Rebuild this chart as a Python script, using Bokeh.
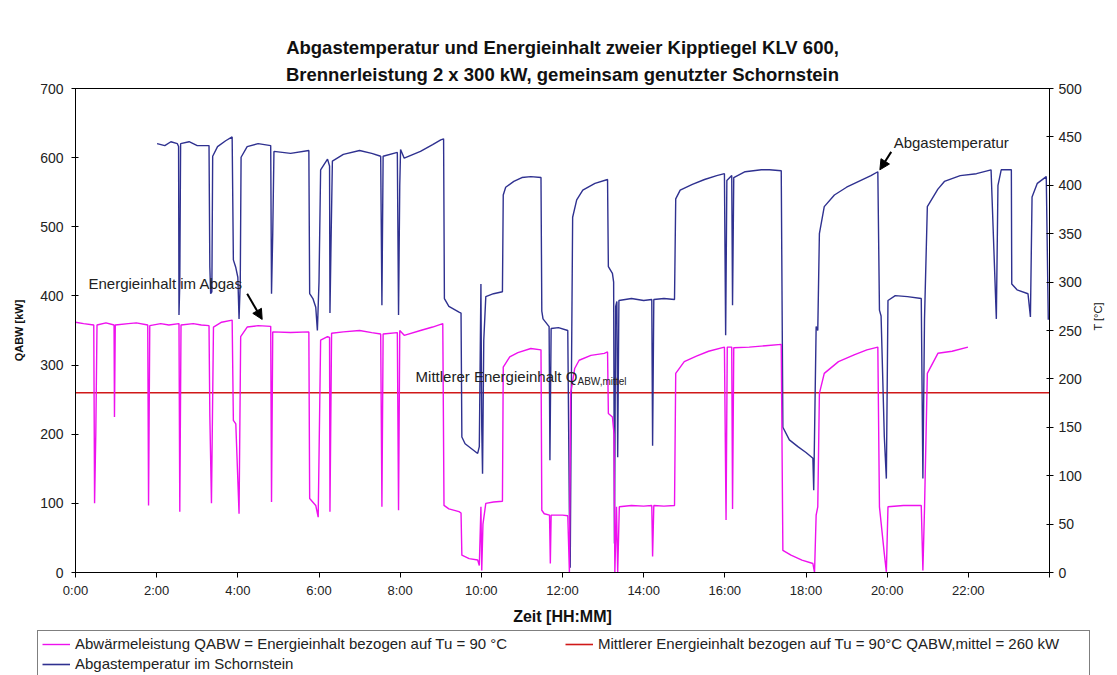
import math
from bokeh.plotting import figure
from bokeh.layouts import column
from bokeh.models import (Range1d, LinearAxis, FixedTicker, Label, Arrow, NormalHead,
                          Legend, LegendItem, Title)
from bokeh.embed import file_html
from bokeh.resources import INLINE

FONT = "Liberation Sans"

title_line1 = "Abgastemperatur und Energieinhalt zweier Kipptiegel KLV 600,"
title_line2 = "Brennerleistung 2 x 300 kW, gemeinsam genutzter Schornstein"

x_start_hour = 0
x_end_hour = 24
x_ticks = [0, 2, 4, 6, 8, 10, 12, 14, 16, 18, 20, 22]
x_tick_labels = ["0:00", "2:00", "4:00", "6:00", "8:00", "10:00", "12:00",
                 "14:00", "16:00", "18:00", "20:00", "22:00"]
q_ticks = [0, 100, 200, 300, 400, 500, 600, 700]
t_ticks = [0, 50, 100, 150, 200, 250, 300, 350, 400, 450, 500]

# Abgastemperatur im Schornstein [°C]
temp_hours = [2.01, 2.2, 2.35, 2.51, 2.54, 2.55, 2.57, 2.59, 2.8, 3.0, 3.29, 3.31, 3.33, 3.36,
              3.38, 3.5, 3.7, 3.86, 3.89, 3.95, 4.0, 4.03, 4.06, 4.08, 4.23, 4.5, 4.81, 4.83,
              4.86, 4.89, 5.3, 5.75, 5.77, 5.85, 5.92, 5.96, 6.0, 6.04, 6.21, 6.26, 6.27, 6.30,
              6.33, 6.6, 7.0, 7.3, 7.52, 7.55, 7.58, 7.93, 7.96, 7.99, 8.01, 8.10, 8.5, 8.8,
              9.0, 9.07, 9.09, 9.2, 9.45, 9.50, 9.52, 9.6, 9.91, 9.95, 9.99, 10.01, 10.03,
              10.06, 10.11, 10.3, 10.52, 10.54, 10.6, 10.8, 11.0, 11.22, 11.47, 11.49, 11.52,
              11.67, 11.69, 11.72, 11.9, 12.13, 12.17, 12.19, 12.22, 12.25, 12.35, 12.5, 12.8,
              13.11, 13.13, 13.23, 13.26, 13.28, 13.31, 13.34, 13.36, 13.39, 13.7, 14.0, 14.2,
              14.22, 14.25, 14.5, 14.76, 14.79, 14.9, 15.2, 15.5, 15.8, 15.99, 16.02, 16.05,
              16.17, 16.19, 16.22, 16.5, 16.9, 17.1, 17.39, 17.43, 17.59, 17.8, 18.0, 18.17,
              18.19, 18.25, 18.29, 18.33, 18.45, 18.7, 19.0, 19.3, 19.6, 19.77, 19.81, 19.85,
              19.93, 19.98, 20.02, 20.2, 20.5, 20.84, 20.88, 20.92, 20.99, 21.25, 21.41, 21.8,
              22.2, 22.56, 22.69, 22.73, 22.81, 23.06, 23.07, 23.2, 23.47, 23.53, 23.57, 23.7,
              23.92, 23.97]
temp_values = [443, 441, 445, 443, 440, 266, 300, 443, 445, 441, 441, 316, 288, 290,
               430, 440, 446, 450, 323, 315, 305, 262, 300, 429, 440, 443, 441, 288,
               350, 435, 433, 436, 288, 283, 274, 250, 300, 416, 427, 420, 268, 350,
               425, 432, 436, 433, 430, 276, 430, 434, 266, 400, 437, 428, 435, 442,
               447, 448, 283, 275, 269, 268, 140, 133, 123, 130, 298, 150, 102,
               240, 285, 288, 290, 390, 398, 404, 408, 409, 408, 270, 262,
               254, 116, 252, 253, 250, 60, 5, 200, 367, 385, 395, 402,
               406, 316, 309, 300, 30, 275, 280, 119, 281, 283, 281, 282,
               131, 282, 283, 282, 386, 395, 401, 406, 410, 412, 245, 405,
               410, 276, 408, 414, 416, 416, 415, 150, 137, 130, 124, 118,
               85, 254, 250, 350, 378, 390, 398, 404, 410, 414, 271, 265,
               140, 97, 281, 286, 285, 283, 97, 262, 378, 396, 404, 410,
               412, 416, 262, 400, 416, 416, 298, 292, 288, 264, 388, 402,
               409, 261]

# Abwaermeleistung Q_ABW [kW]
q_hours = [0.0, 0.2, 0.45, 0.47, 0.50, 0.53, 0.75, 0.95, 0.96, 0.98, 1.3, 1.5, 1.78, 1.80,
           1.83, 2.1, 2.3, 2.55, 2.57, 2.60, 2.9, 3.1, 3.29, 3.31, 3.35, 3.40, 3.6, 3.86,
           3.89, 3.95, 4.03, 4.07, 4.23, 4.5, 4.81, 4.83, 4.86, 5.3, 5.75, 5.77, 5.92, 5.98,
           6.04, 6.21, 6.26, 6.27, 6.31, 6.6, 7.0, 7.3, 7.52, 7.55, 7.58, 7.93, 7.96, 7.99,
           8.10, 8.5, 8.8, 9.05, 9.08, 9.2, 9.45, 9.50, 9.52, 9.7, 9.91, 9.95, 9.99, 10.01,
           10.04, 10.11, 10.3, 10.52, 10.54, 10.7, 10.9, 11.22, 11.47, 11.49, 11.55, 11.68,
           11.70, 11.72, 12.0, 12.13, 12.17, 12.20, 12.30, 12.41, 12.7, 13.03, 13.11, 13.13,
           13.23, 13.27, 13.29, 13.33, 13.36, 13.40, 13.7, 14.0, 14.2, 14.22, 14.25, 14.5,
           14.76, 14.79, 15.0, 15.3, 15.6, 15.99, 16.03, 16.06, 16.17, 16.19, 16.22, 16.6,
           17.0, 17.39, 17.43, 17.63, 17.9, 18.17, 18.21, 18.25, 18.29, 18.33, 18.45, 18.8,
           19.2, 19.5, 19.77, 19.81, 19.93, 19.98, 20.02, 20.4, 20.84, 20.88, 20.92, 20.99,
           21.25, 21.6, 21.99]
q_values = [362, 360, 358, 100, 200, 358, 361, 358, 225, 358, 360, 361, 358, 97,
            357, 360, 358, 360, 88, 358, 360, 358, 357, 227, 100, 355, 362, 365,
            220, 215, 85, 341, 355, 357, 356, 102, 348, 347, 348, 107, 97, 80,
            336, 341, 340, 88, 346, 348, 350, 347, 345, 95, 345, 347, 90, 350,
            343, 350, 355, 360, 97, 92, 88, 86, 25, 20, 18, 10, 95, 3,
            70, 100, 102, 103, 297, 312, 318, 324, 322, 90, 85, 83,
            13, 83, 83, 82, 0, 259, 295, 307, 314, 317, 319, 230,
            225, 200, 0, 95, 0, 95, 97, 96, 97, 23, 97, 96,
            97, 288, 305, 313, 320, 326, 76, 326, 326, 92, 325, 326,
            328, 330, 32, 25, 18, 13, 0, 83, 95, 259, 288, 305,
            315, 322, 326, 95, 27, 1, 95, 97, 97, 3, 92, 288,
            317, 320, 326]

q_mean = 260

legend_labels = ["Abwärmeleistung QABW = Energieinhalt bezogen auf Tu = 90 °C",
                 "Mittlerer Energieinhalt bezogen auf Tu = 90°C QABW,mittel = 260 kW",
                 "Abgastemperatur im Schornstein"]

MAGENTA = "#ee11ee"
NAVY = "#2f3190"
RED = "#d01818"

p = figure(width=1117, height=630,
           x_range=Range1d(x_start_hour, x_end_hour), y_range=Range1d(0, 700),
           output_backend="svg", toolbar_location=None, frame_align=False,
           min_border_left=75, min_border_right=68, min_border_top=88, min_border_bottom=58)
p.extra_y_ranges = {"T": Range1d(0, 500)}
p.grid.visible = False
p.outline_line_color = "black"
p.outline_line_width = 1
p.background_fill_color = "white"
p.border_fill_color = "white"

# titles (the default title is the outer one, added titles sit closer to the frame)
p.title.text = title_line1
p.title.align = "center"
p.title.text_font = FONT
p.title.text_font_size = "18.5px"
p.title.text_font_style = "bold"
p.title.text_color = "#111111"
p.title.standoff = 0
t2 = Title(text=title_line2, align="center", text_font=FONT, text_font_size="18.5px",
           text_font_style="bold", text_color="#111111", standoff=8)
p.add_layout(t2, "above")

# x axis
xa = p.xaxis[0]
xa.ticker = FixedTicker(ticks=x_ticks + [x_end_hour])
xa.major_label_overrides = {t: l for t, l in zip(x_ticks, x_tick_labels)}
xa.major_label_overrides[x_end_hour] = ""
xa.minor_tick_line_color = None
xa.major_tick_in = 0
xa.major_tick_out = 5
xa.major_label_standoff = 5
xa.major_label_text_font = FONT
xa.major_label_text_font_size = "13px"
xa.major_label_text_color = "#222222"
xa.axis_label = "Zeit [HH:MM]"
xa.axis_label_text_font = FONT
xa.axis_label_text_font_size = "16px"
xa.axis_label_text_font_style = "bold"
xa.axis_label_text_color = "#111111"
xa.axis_label_standoff = 7
xa.axis_line_color = "black"

# left axis
ya = p.yaxis[0]
ya.ticker = FixedTicker(ticks=q_ticks)
ya.minor_tick_line_color = None
ya.major_tick_in = 3
ya.major_tick_out = 4
ya.major_label_standoff = 8
ya.major_label_text_font = FONT
ya.major_label_text_font_size = "14px"
ya.major_label_text_color = "#222222"
ya.axis_line_color = "black"
ya.axis_label = "QABW [kW]"
ya.axis_label_text_font = FONT
ya.axis_label_text_font_size = "11px"
ya.axis_label_text_font_style = "bold"
ya.axis_label_text_color = "#111111"
ya.axis_label_standoff = 12

# right axis
ra = LinearAxis(y_range_name="T", ticker=FixedTicker(ticks=t_ticks))
ra.minor_tick_line_color = None
ra.major_tick_in = 3
ra.major_tick_out = 4
ra.major_label_standoff = 5
ra.major_label_text_font = FONT
ra.major_label_text_font_size = "14px"
ra.major_label_text_color = "#222222"
ra.axis_line_color = "black"
ra.axis_label = "T [°C]"
ra.axis_label_text_font = FONT
ra.axis_label_text_font_size = "11px"
ra.axis_label_text_font_style = "normal"
ra.axis_label_text_color = "#111111"
ra.axis_label_orientation = math.pi / 2
ra.axis_label_standoff = 13
p.add_layout(ra, "right")

# data
r_mean = p.line([x_start_hour, x_end_hour], [q_mean, q_mean], line_color=RED, line_width=1.6)
r_temp = p.line(temp_hours, temp_values, y_range_name="T", line_color=NAVY, line_width=1.4)
r_q = p.line(q_hours, q_values, line_color=MAGENTA, line_width=1.4)

# annotations
p.add_layout(Label(x=0.32, y=418, text="Energieinhalt im Abgas", text_font=FONT,
                   text_font_size="15px", text_baseline="middle", text_color="#222222"))
p.add_layout(Arrow(end=NormalHead(size=10, fill_color="black", line_color="black"),
                   x_start=4.23, y_start=403, x_end=4.60, y_end=366,
                   line_color="black", line_width=2))
p.add_layout(Label(x=20.16, y=622.5, text="Abgastemperatur", text_font=FONT,
                   text_font_size="15px", text_baseline="middle", text_color="#222222"))
p.add_layout(Arrow(end=NormalHead(size=10, fill_color="black", line_color="black"),
                   x_start=20.10, y_start=434.5, x_end=19.82, y_end=416,
                   y_range_name="T", line_color="black", line_width=2))
p.add_layout(Label(x=8.38, y=283, text="Mittlerer Energieinhalt Q", text_font=FONT,
                   text_font_size="15px", text_baseline="middle", text_color="#222222"))
p.add_layout(Label(x=12.37, y=276, text="ABW,mittel", text_font=FONT,
                   text_font_size="10px", text_baseline="middle", text_color="#222222"))

# legend strip below the chart: the same series drawn off-range, only their legend shows
pl = figure(width=1117, height=45, x_range=Range1d(x_start_hour, x_end_hour),
            y_range=Range1d(1000, 1001), output_backend="svg", toolbar_location=None,
            x_axis_type=None, y_axis_type=None, frame_align=False, min_border=0,
            min_border_left=0, min_border_right=0, min_border_top=0, min_border_bottom=0)
pl.grid.visible = False
pl.outline_line_color = None
pl.background_fill_color = "white"
pl.border_fill_color = "white"
g_q = pl.line(q_hours, q_values, line_color=MAGENTA, line_width=1.4)
g_mean = pl.line([x_start_hour, x_end_hour], [q_mean, q_mean], line_color=RED, line_width=1.6)
g_temp = pl.line(temp_hours, temp_values, line_color=NAVY, line_width=1.6)

legend = Legend(items=[LegendItem(label=legend_labels[0], renderers=[g_q]),
                       LegendItem(label=legend_labels[1], renderers=[g_mean]),
                       LegendItem(label=legend_labels[2], renderers=[g_temp])],
                orientation="horizontal", ncols=2, location=(37, -2),
                border_line_color="black", border_line_width=1,
                background_fill_color="white", background_fill_alpha=1,
                padding=4, spacing=3, margin=0, glyph_width=28, glyph_height=16,
                label_height=16, label_width=487, label_standoff=5,
                label_text_font=FONT, label_text_font_size="15px", label_text_color="#222222")
pl.add_layout(legend, "center")

layout = column(p, pl, spacing=0)
open("out.html", "w").write(file_html(layout, INLINE))
